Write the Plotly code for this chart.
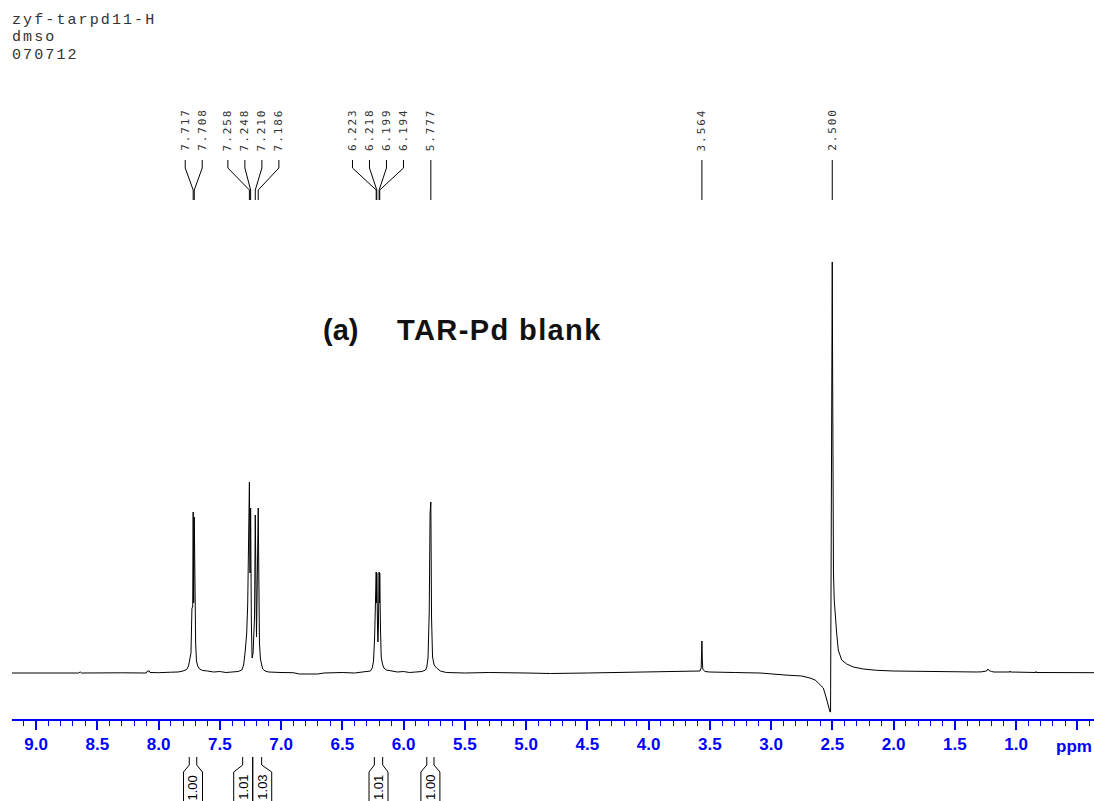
import plotly.graph_objects as go

# ---------------- data ----------------
header_lines = ["zyf-tarpd11-H", "dmso", "070712"]
title_tag = "(a)"
title_text = "TAR-Pd blank"

# spectrum vertices: chemical shift (ppm) and intensity (arbitrary units, baseline = 0)
spec_ppm = [
    9.196, 8.90, 8.65, 8.64, 8.63, 8.30, 8.10, 8.09, 8.075, 8.07, 8.00, 7.90, 7.84, 7.80,
    7.77, 7.755, 7.745, 7.735, 7.727, 7.721, 7.717, 7.713, 7.708, 7.703, 7.697, 7.690,
    7.680, 7.665, 7.64, 7.60, 7.55, 7.50, 7.45, 7.40, 7.35, 7.32, 7.305, 7.292, 7.280,
    7.272, 7.264, 7.258, 7.253, 7.248, 7.242, 7.236, 7.228, 7.222, 7.216, 7.210, 7.205,
    7.200, 7.193, 7.186, 7.181, 7.176, 7.168, 7.160, 7.150, 7.13, 7.10, 7.00, 6.90, 6.85,
    6.70, 6.65, 6.50, 6.40, 6.30, 6.27, 6.255, 6.245, 6.236, 6.229, 6.223, 6.220, 6.218,
    6.212, 6.209, 6.205, 6.199, 6.196, 6.194, 6.188, 6.182, 6.172, 6.16, 6.14, 6.10, 6.05,
    6.00, 5.95, 5.90, 5.85, 5.82, 5.81, 5.80, 5.790, 5.783, 5.777, 5.771, 5.763, 5.750,
    5.73, 5.70, 5.65, 5.50, 5.30, 5.00, 4.80, 4.50, 4.30, 4.00, 3.80, 3.70, 3.62, 3.58,
    3.570, 3.566, 3.564, 3.561, 3.557, 3.54, 3.50, 3.30, 3.09, 2.886, 2.75, 2.682, 2.640,
    2.614, 2.573, 2.551, 2.532, 2.518, 2.514, 2.508, 2.500, 2.497, 2.494, 2.490, 2.484,
    2.478, 2.464, 2.451, 2.423, 2.382, 2.328, 2.247, 2.137, 2.002, 1.80, 1.457, 1.32,
    1.28, 1.24, 1.230, 1.220, 1.20, 1.18, 1.05, 1.049, 1.047, 0.84, 0.837, 0.835, 0.363,
]
spec_int = [
    0.0, 0.3, 0.0, 1.2, 0.0, 0.2, 0.0, 2.0, 2.0, 0.5, 0.3, 0.8, 1.0, 2.0,
    3.5, 7, 13, 20, 65, 66, 161, 70, 156, 55, 30, 12,
    7, 4, 2.5, 2, 1, 1.5, 0.5, 1, 1.5, 3, 8, 22, 40,
    68, 120, 191, 100, 165, 50, 15, 20, 36, 57, 158, 60,
    36, 100, 165, 97, 30, 14, 8, 4, 2, 1, 0.5, 0.3, -1,
    -1, 0, 0.5, 0, 1, 2, 5, 12, 35, 60, 101, 70, 100,
    45, 31, 45, 101, 70, 100, 45, 16, 9, 5, 3, 2, 1,
    1.5, 0.5, 1, 1.5, 3, 6, 15, 60, 160, 171, 55, 16, 8,
    5, 2, 0.5, 0, 0.5, 0, -0.5, 0, 0.5, 0.5, 1.5, 2, 1.5, 2,
    5, 14, 32, 14, 4, 1.5, 1, 0.5, 0, -2, -3, -5, -7,
    -10, -15, -24, -34, -39, -39, 200, 411, 300, 200, 100, 73,
    60, 40, 23, 13, 9, 6, 4, 2.7, 2, 1.5, 1.3, 1,
    1.2, 2, 4, 2.5, 1.5, 1, 1, 2, 1, 0.5, 1.5, 0.5, 0.3,
]

peak_labels = [7.717, 7.708, 7.258, 7.248, 7.210, 7.186,
               6.223, 6.218, 6.199, 6.194, 5.777, 3.564, 2.500]

integral_left = [7.749, 7.313, 7.231, 6.238, 5.810]
integral_right = [7.688, 7.231, 7.158, 6.170, 5.751]
integral_values = ["1.00", "1.01", "1.03", "1.01", "1.00"]

tick_vals = [9.0, 8.5, 8.0, 7.5, 7.0, 6.5, 6.0, 5.5, 5.0, 4.5, 4.0, 3.5, 3.0, 2.5, 2.0, 1.5, 1.0, 0.5]
tick_text = ["9.0", "8.5", "8.0", "7.5", "7.0", "6.5", "6.0", "5.5", "5.0", "4.5",
             "4.0", "3.5", "3.0", "2.5", "2.0", "1.5", "1.0", ""]
axis_unit = "ppm"

# ---------------- layout geometry ----------------
W, H = 1094, 801
PX_PER_PPM = 122.5
X_LEFT_PX = 12
X_RANGE = [9.196, 9.196 - (W - X_LEFT_PX) / PX_PER_PPM]
BASE_PX = 673          # pixel row of the spectrum baseline
AXIS_PX = 720          # pixel row of the ppm axis line
BLUE = "#0000FF"


def v(px):
    """pixel row -> y data value"""
    return BASE_PX - px


def dppm(px):
    return px / PX_PER_PPM


fig = go.Figure()
fig.add_trace(go.Scatter(x=spec_ppm, y=spec_int, mode="lines",
                         line=dict(color="black", width=1), hoverinfo="skip"))

shapes = []
annotations = []

# ---- peak labels with connectors ----
groups = []
for p in peak_labels:
    if groups and abs(groups[-1][-1] - p) < 0.1:
        groups[-1].append(p)
    else:
        groups.append([p])
spacing = dppm(17)
for g in groups:
    c = sum(g) / len(g)
    n = len(g)
    for i, p in enumerate(g):
        xl = c + ((n - 1) / 2 - i) * spacing
        shapes.append(dict(type="path", xref="x", yref="y",
                           path=f"M {xl},{v(160)} L {xl},{v(168)} L {p},{v(190)} L {p},{v(200)}",
                           line=dict(color="black", width=1)))
        annotations.append(dict(x=xl, y=v(153), xref="x", yref="y", showarrow=False,
                                xanchor="center", yanchor="bottom", textangle=-90,
                                text=f'<span style="letter-spacing:1.9px">{p:.3f}</span>',
                                font=dict(family="DejaVu Sans Mono", size=11, color="#333333")))

# ---- integral brackets below the axis ----
box_w = dppm(19)
boxes = []
for L, R in zip(integral_left, integral_right):
    c = (L + R) / 2
    boxes.append([c + box_w / 2, c - box_w / 2])
for i in range(len(boxes) - 1):
    if boxes[i][1] < boxes[i + 1][0]:
        shared = (integral_right[i] + integral_left[i + 1]) / 2
        boxes[i] = [shared + box_w, shared]
        boxes[i + 1] = [shared, shared - box_w]
for (L, R), (bL, bR), txt in zip(zip(integral_left, integral_right), boxes, integral_values):
    for neck, edge in ((L, bL), (R, bR)):
        shapes.append(dict(type="path", xref="x", yref="y",
                           path=f"M {neck},{v(757)} L {neck},{v(765)} L {edge},{v(772)} L {edge},{v(810)}",
                           line=dict(color="black", width=1)))
    annotations.append(dict(x=(bL + bR) / 2, y=v(773), xref="x", yref="y", showarrow=False,
                            xanchor="center", yanchor="top", textangle=-90, text=txt,
                            font=dict(family="Liberation Sans", size=13, color="black")))

# ---- header text ----
for k, line in enumerate(header_lines):
    annotations.append(dict(x=10 / W, xref="paper", y=v(20 + k * 17.5), yref="y",
                            xanchor="left", yanchor="middle", showarrow=False,
                            text=f'<span style="letter-spacing:2.1px">{line}</span>',
                            font=dict(family="Liberation Mono", size=15, color="#333333")))

# ---- title ----
annotations.append(dict(x=9.0 - dppm(321 - 36), y=v(330), xref="x", yref="y", showarrow=False,
                        xanchor="left", yanchor="middle", text=f"<b>{title_tag}</b>",
                        font=dict(family="Liberation Sans", size=29, color="#111111")))
annotations.append(dict(x=9.0 - dppm(395 - 36), y=v(330), xref="x", yref="y", showarrow=False,
                        xanchor="left", yanchor="middle",
                        text=f'<b><span style="letter-spacing:1.4px">{title_text}</span></b>',
                        font=dict(family="Liberation Sans", size=29, color="#111111")))

# ---- axis unit ----
annotations.append(dict(x=1.0, xref="paper", y=v(746), yref="y", showarrow=False,
                        xanchor="right", yanchor="middle", text=f"<b>{axis_unit}</b>",
                        font=dict(family="Liberation Sans", size=17, color=BLUE)))

fig.update_layout(
    width=W, height=H, margin=dict(l=0, r=0, t=0, b=0),
    paper_bgcolor="white", plot_bgcolor="white", showlegend=False,
    shapes=shapes, annotations=annotations,
    xaxis=dict(range=X_RANGE, domain=[X_LEFT_PX / W, 1], anchor="free",
               position=(H - AXIS_PX) / H, showline=True, linecolor=BLUE, linewidth=1.5,
               ticks="outside", ticklen=9, tickwidth=1.5, tickcolor=BLUE,
               tickmode="array", tickvals=tick_vals, ticktext=tick_text,
               tickfont=dict(family="Liberation Sans", size=17, color=BLUE, weight="bold"),
               minor=dict(dtick=0.1, tick0=0, ticks="outside", ticklen=5, tickwidth=1,
                          tickcolor=BLUE, showgrid=False),
               showgrid=False, zeroline=False, fixedrange=True),
    yaxis=dict(range=[v(H), v(0)], domain=[0, 1], visible=False, showgrid=False,
               zeroline=False, fixedrange=True),
)

fig.write_html("out.html")
